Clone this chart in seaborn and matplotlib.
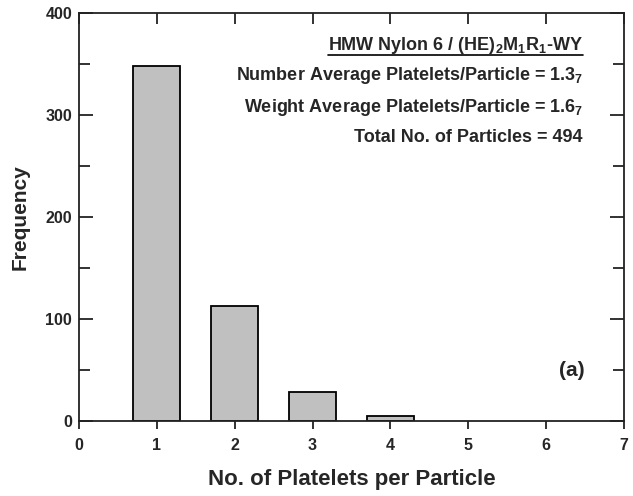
import matplotlib
matplotlib.use("Agg")
import matplotlib.pyplot as plt
from matplotlib.lines import Line2D
from matplotlib.ticker import MultipleLocator
import seaborn as sns
import pandas as pd

# Platelet-count distribution
platelets = [1, 2, 3, 4]
frequency = [348, 113, 28, 5]
x_ticks = [0, 1, 2, 3, 4, 5, 6, 7]
y_ticks = [0, 100, 200, 300, 400]

title_line = "HMW Nylon 6 / (HE)$_{2}$M$_{1}$R$_{1}$-WY"
info_lines = [
    "Number Average Platelets/Particle = 1.3$_{7}$",
    "Weight Average Platelets/Particle = 1.6$_{7}$",
    "Total No. of Particles = 494",
]
panel_label = "(a)"

sns.set_theme(style="ticks")
plt.rcParams["font.family"] = ["Liberation Sans", "DejaVu Sans"]
plt.rcParams["font.weight"] = "bold"
plt.rcParams["mathtext.fontset"] = "custom"
plt.rcParams["mathtext.rm"] = "Liberation Sans:bold"
plt.rcParams["mathtext.it"] = "Liberation Sans:bold"
plt.rcParams["mathtext.bf"] = "Liberation Sans:bold"
plt.rcParams["mathtext.default"] = "rm"

df = pd.DataFrame({"platelets": platelets, "frequency": frequency})

fig = plt.figure(figsize=(6.33, 4.96), dpi=100)
ax = fig.add_axes([0.1248, 0.1512, 0.8610, 0.8226])

sns.barplot(data=df, x="platelets", y="frequency", native_scale=True,
            width=0.6, color="#c0c0c0", edgecolor="black", linewidth=1.3,
            saturation=1, ax=ax)

ax.set_xlim(0, 7)
ax.set_ylim(0, 400)
ax.set_xticks(x_ticks)
ax.set_xticklabels([str(v) for v in x_ticks])
ax.set_yticks(y_ticks)
ax.set_yticklabels([str(v) for v in y_ticks])
ax.yaxis.set_minor_locator(MultipleLocator(50))

for side in ["left", "right", "top", "bottom"]:
    ax.spines[side].set_visible(True)
    ax.spines[side].set_linewidth(1.3)
    ax.spines[side].set_color("#222222")

ax.tick_params(axis="x", which="major", bottom=True, top=False, direction="out",
               length=6, width=1.3, labelsize=11.5, pad=6, color="#222222")
ax.tick_params(axis="y", which="major", left=True, right=True, direction="in",
               length=10, width=1.3, labelsize=11.5, pad=5, color="#222222")
ax.tick_params(axis="y", which="minor", left=True, right=True, direction="in",
               length=8, width=1.3, color="#222222")
for lbl in ax.get_xticklabels() + ax.get_yticklabels():
    lbl.set_fontweight("bold")

# inward ticks along the top edge
ax_top = ax.secondary_xaxis("top")
ax_top.set_xticks(x_ticks)
ax_top.tick_params(direction="in", length=8, width=1.3, labeltop=False, color="#222222")
ax_top.spines["top"].set_visible(False)

ax.set_xlabel("No. of Platelets per Particle", fontsize=16, fontweight="bold", labelpad=12)
ax.set_ylabel("Frequency", fontsize=15, fontweight="bold", labelpad=11)

text_x = 583 / 633
ys = [1 - 45 / 496, 1 - 76 / 496, 1 - 107 / 496, 1 - 138 / 496]
t0 = fig.text(text_x, ys[0], title_line, ha="right", va="center",
              fontsize=13, fontweight="bold")
for y, line in zip(ys[1:], info_lines):
    fig.text(text_x, y, line, ha="right", va="center", fontsize=13, fontweight="bold")

fig.text(572 / 633, 1 - 370 / 496, panel_label, ha="center", va="center",
         fontsize=15, fontweight="bold")

# underline the sample heading
fig.canvas.draw()
bb = t0.get_window_extent(renderer=fig.canvas.get_renderer())
W, H = fig.canvas.get_width_height()
y_line = (1 - 54.5 / 496)
fig.add_artist(Line2D([bb.x0 / W, bb.x1 / W], [y_line, y_line],
                      transform=fig.transFigure, color="black", linewidth=1.2))

fig.savefig("out.png", dpi=100)
